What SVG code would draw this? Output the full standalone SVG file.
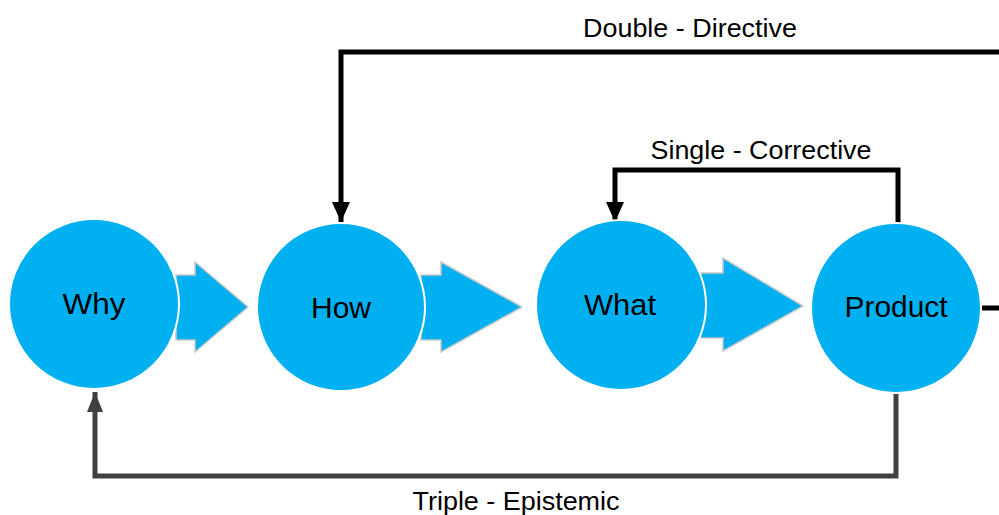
<svg xmlns="http://www.w3.org/2000/svg" width="999" height="515" viewBox="0 0 999 515">
<style>
.node{fill:#00B0F0;stroke:#ffffff;stroke-width:2}
.blk{fill:#00B0F0;stroke:#c8c8c8;stroke-width:1.5;stroke-linejoin:miter}
.lbl{font-family:"Liberation Sans",Arial,sans-serif;font-size:30px;fill:#000;text-anchor:middle}
.cap{font-family:"Liberation Sans",Arial,sans-serif;font-size:26px;fill:#000;text-anchor:middle}
.blkline{fill:none;stroke:#000;stroke-width:5}
.grey{fill:none;stroke:#404040;stroke-width:5}
</style>
<defs>
<marker id="ab" markerUnits="userSpaceOnUse" markerWidth="20" markerHeight="20" refX="20" refY="10" orient="auto" viewBox="0 0 20 20">
<path d="M0,1 L20,10 L0,19 Z" fill="#000"/>
</marker>
<marker id="ag" markerUnits="userSpaceOnUse" markerWidth="20" markerHeight="20" refX="20" refY="10" orient="auto" viewBox="0 0 20 20">
<path d="M0,2 L20,10 L0,18 Z" fill="#404040"/>
</marker>
</defs>
<rect width="999" height="515" fill="#ffffff"/>
<g id="flow-arrows">
<path class="blk" d="M176,275 L195,275 L195,262 L248,307 L195,352 L195,340 L176,340 Z"/>
<path class="blk" d="M421,275 L441,275 L441,262 L522,307 L441,352 L441,340 L421,340 Z"/>
<path class="blk" d="M700,273 L723,273 L723,258 L803,306 L723,351 L723,338 L700,338 Z"/>
</g>
<g id="connectors">
<path class="blkline" d="M1010,308 L982,308"/>
<path class="blkline" d="M1010,52 L341,52 L341,222" marker-end="url(#ab)"/>
<path class="blkline" d="M898,224 L898,170 L615,170 L615,222" marker-end="url(#ab)"/>
<path class="grey" d="M896,392 L896,476 L95,476 L95,392" marker-end="url(#ag)"/>
</g>
<g id="node-why">
<circle class="node" cx="94" cy="304" r="85"/>
<text class="lbl" x="94" y="314" textLength="63" lengthAdjust="spacingAndGlyphs">Why</text>
</g>
<g id="node-how">
<circle class="node" cx="341" cy="307" r="84"/>
<text class="lbl" x="341" y="318" textLength="60" lengthAdjust="spacingAndGlyphs">How</text>
</g>
<g id="node-what">
<circle class="node" cx="621" cy="305" r="85"/>
<text class="lbl" x="620" y="315" textLength="72" lengthAdjust="spacingAndGlyphs">What</text>
</g>
<g id="node-product">
<circle class="node" cx="896" cy="308" r="85"/>
<text class="lbl" x="896" y="317" textLength="103" lengthAdjust="spacingAndGlyphs">Product</text>
</g>
<g id="labels">
<text class="cap" x="690" y="37" textLength="214" lengthAdjust="spacingAndGlyphs">Double - Directive</text>
<text class="cap" x="761" y="159" textLength="221" lengthAdjust="spacingAndGlyphs">Single - Corrective</text>
<text class="cap" x="516" y="510" textLength="207" lengthAdjust="spacingAndGlyphs">Triple - Epistemic</text>
</g>
</svg>
